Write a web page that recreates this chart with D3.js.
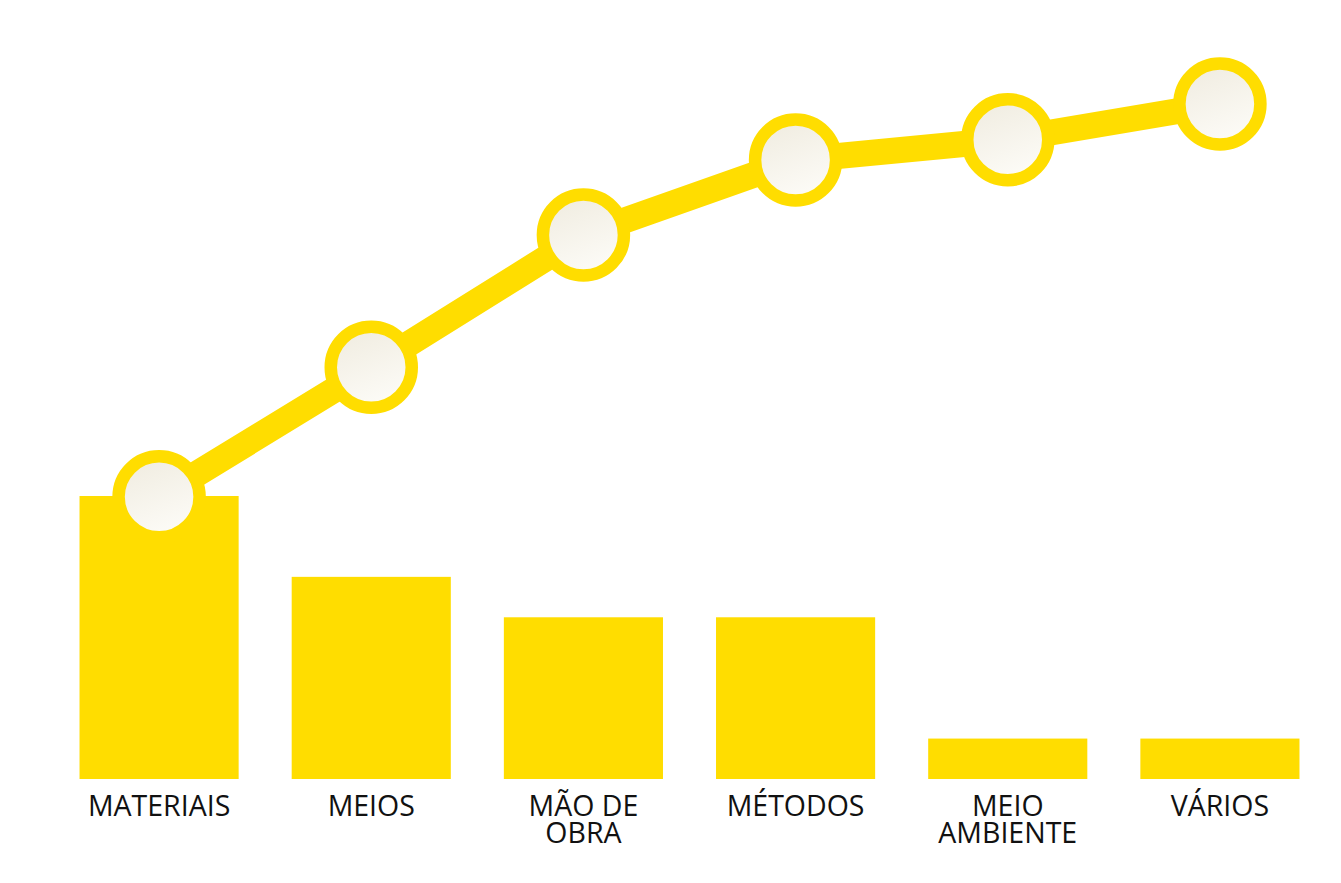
<!DOCTYPE html>
<html>
<head>
<meta charset="utf-8">
<script src="https://cdn.jsdelivr.net/npm/d3@7"></script>
<style>
  body { margin: 0; background: #fff; }
  svg { display: block; }
  .x.axis text { font-family: "Open Sans", sans-serif; font-size: 28.5px; fill: #111; }
</style>
</head>
<body>
<div id="chart"></div>
<script>
// categories and values
let categories = ["MATERIAIS", "MEIOS", "MÃO DE OBRA", "MÉTODOS", "MEIO AMBIENTE", "VÁRIOS"];
let counts = [7, 5, 4, 4, 1, 1];
let cumulative = [41.8, 61.0, 80.6, 91.7, 94.7, 100];

let width = 1341, height = 883;
let margin = {top: 104, right: 15, bottom: 104, left: 53};
let yellow = "#FFDD00";

let svg = d3.select("#chart").append("svg")
    .attr("width", width)
    .attr("height", height);

let defs = svg.append("defs");
let grad = defs.append("linearGradient")
    .attr("id", "knob")
    .attr("x1", "25%").attr("y1", "0%")
    .attr("x2", "65%").attr("y2", "100%");
grad.append("stop").attr("offset", "0%").attr("stop-color", "#f0ece0");
grad.append("stop").attr("offset", "100%").attr("stop-color", "#fdfcf8");

let xScale = d3.scaleBand()
    .domain(categories)
    .range([margin.left, width - margin.right])
    .paddingInner(0.25)
    .paddingOuter(0.125);

let yScale = d3.scaleLinear()
    .domain([0, 7])
    .range([height - margin.bottom, 496]);

let y2Scale = d3.scaleLinear()
    .domain([0, 100])
    .range([height - margin.bottom, margin.top]);

let data = categories.map(function (c, i) {
    return {name: c, count: counts[i], cum: cumulative[i]};
});

// bars
svg.append("g").selectAll("rect")
    .data(data)
    .enter().append("rect")
    .attr("x", d => xScale(d.name))
    .attr("y", d => yScale(d.count))
    .attr("width", xScale.bandwidth())
    .attr("height", d => yScale(0) - yScale(d.count))
    .attr("fill", yellow);

// x axis labels
let xAxis = d3.axisBottom(xScale).tickSize(0).tickPadding(0);
let axisG = svg.append("g")
    .attr("class", "x axis")
    .attr("transform", "translate(0," + yScale(0) + ")")
    .call(xAxis);
axisG.select(".domain").remove();
axisG.selectAll("text")
    .attr("y", 37)
    .attr("dy", 0)
    .call(wrap, xScale.bandwidth());

function wrap(texts, w) {
    texts.each(function () {
        let text = d3.select(this);
        let words = text.text().split(/\s+/);
        let y = text.attr("y");
        text.text(null);
        let line = [];
        let lineNo = 0;
        let tspan = text.append("tspan").attr("x", 0).attr("y", y);
        words.forEach(function (word) {
            line.push(word);
            tspan.text(line.join(" "));
            if (tspan.node().getComputedTextLength() > w && line.length > 1) {
                line.pop();
                tspan.text(line.join(" "));
                line = [word];
                lineNo++;
                tspan = text.append("tspan").attr("x", 0).attr("y", +y + lineNo * 27).text(word);
            }
        });
    });
}

// cumulative line
let line = d3.line()
    .x(d => xScale(d.name) + xScale.bandwidth() / 2)
    .y(d => y2Scale(d.cum));

svg.append("path")
    .datum(data)
    .attr("d", line)
    .attr("fill", "none")
    .attr("stroke", yellow)
    .attr("stroke-width", 26);

svg.append("g").selectAll("circle")
    .data(data)
    .enter().append("circle")
    .attr("cx", d => xScale(d.name) + xScale.bandwidth() / 2)
    .attr("cy", d => y2Scale(d.cum))
    .attr("r", 40.5)
    .attr("fill", "url(#knob)")
    .attr("stroke", yellow)
    .attr("stroke-width", 12.5);
</script>
</body>
</html>
